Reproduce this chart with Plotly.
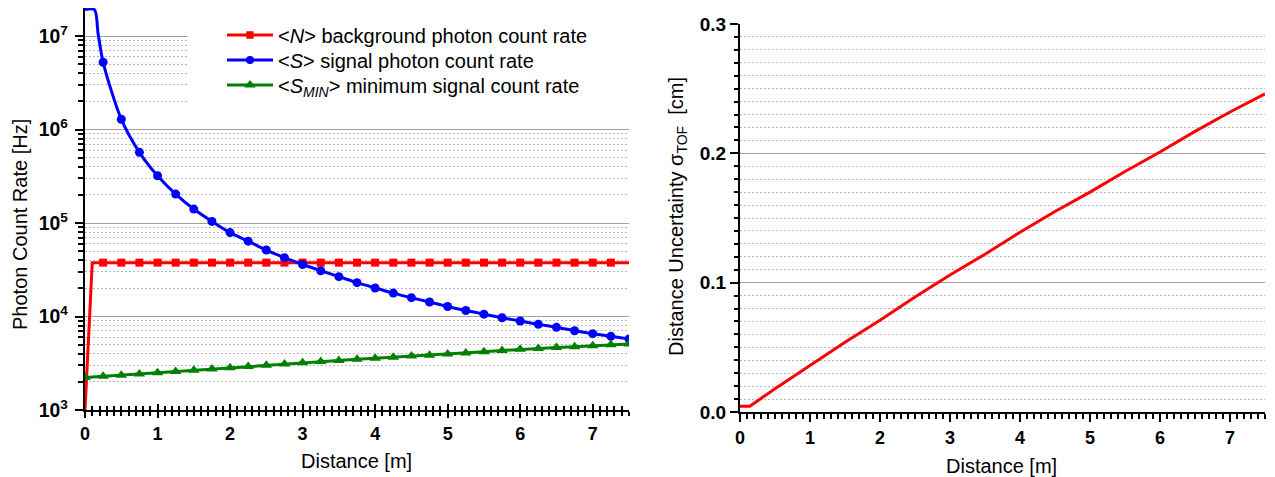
import plotly.graph_objects as go

W, H = 1275, 477
FONT = "Liberation Sans, Arial, sans-serif"

# ---------------- left panel: photon count rates vs distance ----------------
# <N> background photon count rate [Hz]
n_dist = [0.0, 0.1, 0.25, 0.5, 0.75, 1.0, 1.25, 1.5, 1.75, 2.0, 2.25, 2.5, 2.75, 3.0, 3.25, 3.5,
          3.75, 4.0, 4.25, 4.5, 4.75, 5.0, 5.25, 5.5, 5.75, 6.0, 6.25, 6.5, 6.75, 7.0, 7.25, 7.5]
n_rate = [1000, 37700, 37700, 37700, 37700, 37700, 37700, 37700, 37700, 37700, 37700, 37700,
          37700, 37700, 37700, 37700, 37700, 37700, 37700, 37700, 37700, 37700, 37700, 37700,
          37700, 37700, 37700, 37700, 37700, 37700, 37700, 37700]

# <S> signal photon count rate [Hz]
s_dist = [0.0, 0.13, 0.18, 0.25, 0.5, 0.75, 1.0, 1.25, 1.5, 1.75, 2.0, 2.25, 2.5, 2.75, 3.0,
          3.25, 3.5, 3.75, 4.0, 4.25, 4.5, 4.75, 5.0, 5.25, 5.5, 5.75, 6.0, 6.25, 6.5, 6.75,
          7.0, 7.25, 7.5]
s_rate = [1.92e7, 1.92e7, 1.07e7, 5.24e6, 1.29e6, 5.7e5, 3.2e5, 2.04e5, 1.41e5, 1.04e5, 7.9e4,
          6.4e4, 5.14e4, 4.26e4, 3.6e4, 3.09e4, 2.67e4, 2.30e4, 2.02e4, 1.78e4, 1.59e4, 1.43e4,
          1.28e4, 1.16e4, 1.06e4, 9.7e3, 8.95e3, 8.24e3, 7.66e3, 7.05e3, 6.55e3, 6.14e3, 5.74e3]

# <S_MIN> minimum signal count rate [Hz]
m_dist = [0.0, 0.25, 0.5, 0.75, 1.0, 1.25, 1.5, 1.75, 2.0, 2.25, 2.5, 2.75, 3.0, 3.25, 3.5,
          3.75, 4.0, 4.25, 4.5, 4.75, 5.0, 5.25, 5.5, 5.75, 6.0, 6.25, 6.5, 6.75, 7.0, 7.25, 7.5]
m_rate = [2220, 2290, 2360, 2430, 2510, 2580, 2660, 2750, 2830, 2920, 3010, 3110, 3210, 3300,
          3390, 3480, 3570, 3660, 3770, 3860, 3970, 4080, 4210, 4330, 4460, 4560, 4670, 4760,
          4880, 4980, 5080]

# ---------------- right panel: time-of-flight distance uncertainty ----------------
sig_dist = [0.0, 0.14, 0.5, 1.0, 1.5, 2.0, 2.5, 3.0, 3.5, 4.0, 4.5, 5.0, 5.5, 6.0, 6.5, 7.0, 7.5]
sig_cm = [0.0044, 0.0044, 0.018, 0.036, 0.054, 0.071, 0.089, 0.106, 0.122, 0.139, 0.155, 0.170,
          0.186, 0.201, 0.217, 0.232, 0.246]

x_ticks = [0, 1, 2, 3, 4, 5, 6, 7]
sig_ticks = [0.0, 0.1, 0.2, 0.3]


def on_quarter(d, lo, hi):
    return lo <= d <= hi and abs(d * 4 - round(d * 4)) < 1e-9


n_sizes = [8 if on_quarter(d, 0.25, 7.25) else 0 for d in n_dist]
s_sizes = [9 if on_quarter(d, 0.25, 7.5) else 0 for d in s_dist]

fig = go.Figure()

# white backdrop behind the legend block: sits above the grid, below the curves
fig.add_trace(go.Scatter(
    x=[1.41, 7.6, 7.6, 1.41, 1.41], y=[1.5e6, 1.5e6, 5e7, 5e7, 1.5e6],
    mode="lines", fill="toself", fillcolor="white", line=dict(width=0, color="white"),
    showlegend=False, hoverinfo="skip", xaxis="x", yaxis="y"))

fig.add_trace(go.Scatter(
    x=n_dist, y=n_rate, mode="lines+markers",
    name="&lt;<i>N</i>&gt; background photon count rate", legend="legend",
    line=dict(color="#ff0000", width=3),
    marker=dict(symbol="square", size=n_sizes, color="#ff0000", opacity=1,
                line=dict(width=0)),
    xaxis="x", yaxis="y"))

fig.add_trace(go.Scatter(
    x=s_dist, y=s_rate, mode="lines+markers",
    name="&lt;<i>S</i>&gt; signal photon count rate", legend="legend2",
    line=dict(color="#0000ff", width=3, shape="spline", smoothing=0.8),
    marker=dict(symbol="circle", size=s_sizes, color="#0000ff", opacity=1,
                line=dict(width=0)),
    xaxis="x", yaxis="y"))

fig.add_trace(go.Scatter(
    x=m_dist, y=m_rate, mode="lines+markers",
    name="&lt;<i>S</i><sub><i>MIN</i></sub>&gt; minimum signal count rate", legend="legend3",
    line=dict(color="#008000", width=3),
    marker=dict(symbol="triangle-up", size=10, color="#008000", opacity=1,
                line=dict(width=0)),
    xaxis="x", yaxis="y"))

fig.add_trace(go.Scatter(
    x=sig_dist, y=sig_cm, mode="lines", showlegend=False,
    line=dict(color="#ff0000", width=3),
    xaxis="x2", yaxis="y2"))

# empty trace that carries the inner half of the crossing ticks on the left x axis
fig.add_trace(go.Scatter(x=[None], y=[None], xaxis="x3", yaxis="y",
                         showlegend=False, hoverinfo="skip"))

tick_font = dict(family=FONT, size=18, color="black", weight="bold")
major_grid = "#a0a0a0"
minor_grid = "#b8b8b8"

common_x = dict(
    range=[0, 7.5], tickvals=x_ticks, showgrid=False, zeroline=False,
    showline=True, linecolor="black", linewidth=2,
    tickcolor="black", tickwidth=1.5, tickfont=tick_font,
)


def legend_at(center_y):
    return dict(
        x=222 / W, y=1 - center_y / H, xanchor="left", yanchor="middle",
        font=dict(family=FONT, size=20, color="black"),
        bgcolor="rgba(0,0,0,0)", itemwidth=46,
    )


fig.update_layout(
    width=W, height=H,
    margin=dict(l=0, r=0, t=0, b=0, autoexpand=False),
    paper_bgcolor="white", plot_bgcolor="white",
    font=dict(family=FONT, color="black"),
    showlegend=True,
    legend=legend_at(35),
    legend2=legend_at(60),
    legend3=legend_at(85),
    xaxis=dict(
        domain=[85 / W, 629 / W], anchor="y",
        ticks="outside", ticklen=6,
        minor=dict(dtick=0.1, ticks="outside", ticklen=4, tickwidth=1.5, tickcolor="black"),
        **common_x,
    ),
    xaxis3=dict(
        overlaying="x", anchor="y", range=[0, 7.5], tickvals=x_ticks,
        ticks="inside", ticklen=6, tickwidth=1.5, tickcolor="black",
        minor=dict(dtick=0.1, ticks="inside", ticklen=4, tickwidth=1.5, tickcolor="black"),
        showticklabels=False, showgrid=False, zeroline=False, showline=False,
    ),
    yaxis=dict(
        domain=[(H - 410) / H, (H - 8) / H], anchor="x",
        type="log", range=[3, 7.3], dtick=1, exponentformat="power",
        showline=True, linecolor="black", linewidth=2,
        ticks="outside", ticklen=8, tickwidth=1.5, tickcolor="black",
        ticklabelstandoff=4,
        tickfont=dict(family=FONT, size=15.5, color="black", weight="bold"),
        showgrid=True, gridcolor=major_grid, gridwidth=1,
        minor=dict(dtick="D1", ticks="outside", ticklen=5, tickwidth=1.5, tickcolor="black",
                   showgrid=True, gridcolor=minor_grid, gridwidth=1, griddash="2px,2px"),
        zeroline=False,
    ),
    xaxis2=dict(
        domain=[740 / W, 1265 / W], anchor="y2",
        ticks="outside", ticklen=8,
        minor=dict(dtick=0.1, ticks="outside", ticklen=5, tickwidth=1.5, tickcolor="black"),
        **common_x,
    ),
    yaxis2=dict(
        domain=[(H - 412) / H, (H - 24) / H], anchor="x2",
        range=[0, 0.3], tickvals=sig_ticks, tickformat=".1f",
        showline=True, linecolor="black", linewidth=2,
        ticks="outside", ticklen=8, tickwidth=1.5, tickcolor="black",
        tickfont=dict(family=FONT, size=19, color="black", weight="bold"),
        showgrid=True, gridcolor=major_grid, gridwidth=1,
        minor=dict(dtick=0.01, ticks="outside", ticklen=4, tickwidth=1.5, tickcolor="black",
                   showgrid=True, gridcolor=minor_grid, gridwidth=1, griddash="2px,2px"),
        zeroline=False,
    ),
)

title_font = dict(family=FONT, size=20, color="black")
fig.add_annotation(text="Photon Count Rate [Hz]", x=20 / W, y=1 - 225 / H,
                   xref="paper", yref="paper", showarrow=False, textangle=-90,
                   font=title_font, xanchor="center", yanchor="middle")
fig.add_annotation(text="Distance [m]", x=356 / W, y=1 - 461 / H,
                   xref="paper", yref="paper", showarrow=False,
                   font=title_font, xanchor="center", yanchor="middle")
fig.add_annotation(text="Distance Uncertainty σ<sub>TOF</sub>  [cm]", x=677 / W, y=1 - 217 / H,
                   xref="paper", yref="paper", showarrow=False, textangle=-90,
                   font=title_font, xanchor="center", yanchor="middle")
fig.add_annotation(text="Distance [m]", x=1001 / W, y=1 - 466 / H,
                   xref="paper", yref="paper", showarrow=False,
                   font=title_font, xanchor="center", yanchor="middle")

fig.write_html("out.html")
